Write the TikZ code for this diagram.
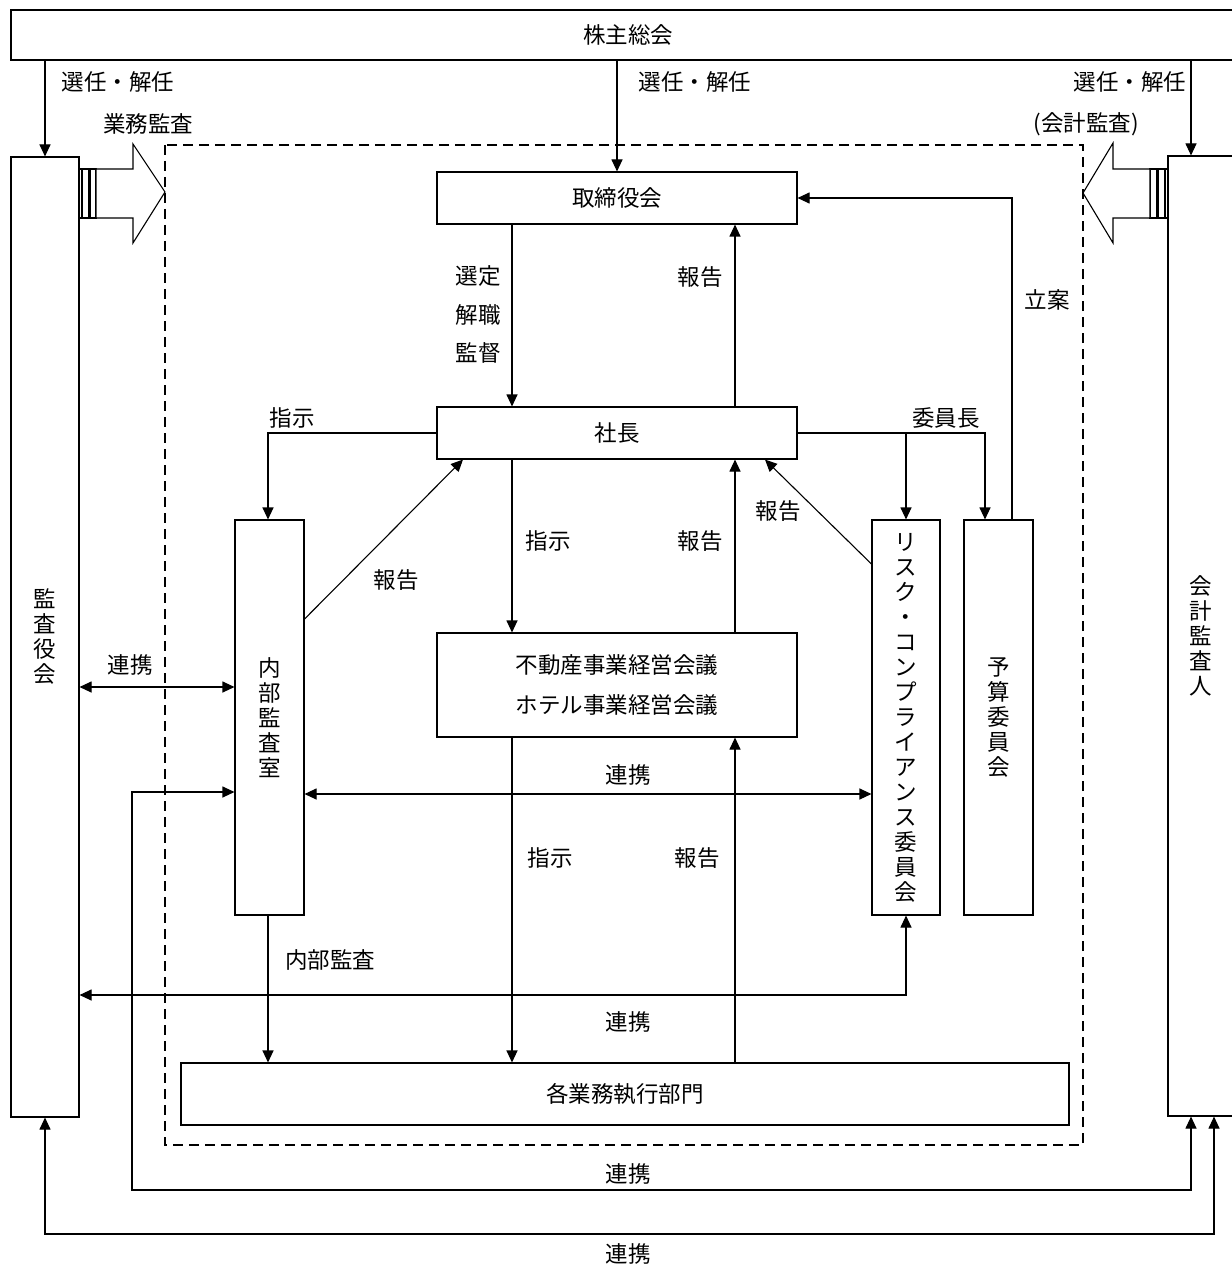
\documentclass[tikz,border=0pt]{standalone}
\usepackage{fontspec}
\setmainfont{Noto Sans CJK JP}
\usetikzlibrary{arrows.meta,calc}
\begin{document}
\begin{tikzpicture}[x=1pt,y=-1pt,
  box/.style={draw,line width=1.1pt,inner sep=0pt,font=\fontsize{22.5}{25}\selectfont,align=center},
  lbl/.style={inner sep=0pt,font=\fontsize{22.5}{25}\selectfont},
  arr/.style={line width=1.1pt,-{Triangle[length=12pt,width=11pt]}},
  darr/.style={line width=1.1pt,{Triangle[length=12pt,width=11pt]}-{Triangle[length=12pt,width=11pt]}},
  hollow/.style={draw,line width=1.1pt,fill=white,line join=miter}
]
\useasboundingbox (0,0) rectangle (1231,1265);
% dashed frame
\draw[line width=1.1pt,dash pattern=on 10pt off 6pt] (165,145) rectangle (1083,1145);
% boxes
\node[box,minimum width=1234pt,minimum height=50pt] (sh) at (628,35) {株主総会};
\node[box,minimum width=68pt,minimum height=960pt] (kansa) at (45,637) {監\\査\\役\\会};
\node[box,minimum width=66pt,minimum height=960pt] (kaikei) at (1201,636) {会\\計\\監\\査\\人};
\node[box,minimum width=360pt,minimum height=52pt] (tori) at (617,198) {取締役会};
\node[box,minimum width=360pt,minimum height=52pt] (shacho) at (617,433) {社長};
\node[box,minimum width=69pt,minimum height=395pt] (naibu) at (269.5,717.5) {内\\部\\監\\査\\室};
\node[box,minimum width=68pt,minimum height=395pt] (risk) at (906,717.5) {リ\\ス\\ク\\・\\コ\\ン\\プ\\ラ\\イ\\ア\\ン\\ス\\委\\員\\会};
\node[box,minimum width=69pt,minimum height=395pt] (yosan) at (998.5,717.5) {予\\算\\委\\員\\会};
\node[box,minimum width=360pt,minimum height=104pt,font=\fontsize{22.5}{40}\selectfont] (fudo) at (617,685) {不動産事業経営会議\\ホテル事業経営会議};
\node[box,minimum width=888pt,minimum height=62pt] (kaku) at (625,1094) {各業務執行部門};
% hollow arrows
\draw[hollow] (79,169) rectangle (82,218);
\draw[hollow] (82,169) rectangle (89,218);
\draw[hollow] (90,169) rectangle (96,218);
\draw[hollow] (96,169) -- (133,169) -- (133,144) -- (165,192) -- (133,243) -- (133,218) -- (96,218) -- cycle;
\draw[hollow] (1165,169) rectangle (1168,218);
\draw[hollow] (1158,169) rectangle (1165,218);
\draw[hollow] (1150,169) rectangle (1157,218);
\draw[hollow] (1150,169) -- (1113,169) -- (1113,143) -- (1083,193) -- (1113,243) -- (1113,218) -- (1150,218) -- cycle;
% coordinates
\coordinate (r1) at (0,687);
\coordinate (r2) at (0,794);
\coordinate (r3) at (0,792);
\coordinate (c1) at (132,1190);
\coordinate (c2) at (1214,1234);
\coordinate (r4) at (0,995);
% connectors
\draw[arr] (kansa.north |- sh.south) -- (kansa.north);
\draw[arr] (tori.north |- sh.south) -- (tori.north);
\draw[arr] ([xshift=-10pt]kaikei.north |- sh.south) -- ([xshift=-10pt]kaikei.north);
\draw[arr] ([xshift=-105pt]tori.south) -- ([xshift=-105pt]shacho.north);
\draw[arr] ([xshift=118pt]shacho.north) -- ([xshift=118pt]tori.south);
\draw[arr] ([xshift=13.5pt]yosan.north) |- (tori.east);
\draw[arr] (shacho.west) -| ([xshift=-1.5pt]naibu.north);
\draw[arr] (shacho.east) -| ([xshift=-13.5pt]yosan.north);
\draw[arr] (risk.north |- shacho.east) -- (risk.north);
\draw[arr] ([yshift=98.5pt]naibu.east) -- ([xshift=-154pt]shacho.south);
\draw[arr] ([yshift=153.5pt]risk.west) -- ([xshift=148pt]shacho.south);
\draw[arr] ([xshift=-105pt]shacho.south) -- ([xshift=-105pt]fudo.north);
\draw[arr] ([xshift=118pt]fudo.north) -- ([xshift=118pt]shacho.south);
\draw[darr] (kansa.east |- r1) -- (naibu.west |- r1);
\draw[darr] (naibu.east |- r2) -- (risk.west |- r2);
\draw[darr] (naibu.west |- r3) -| (c1) -| ([xshift=-10pt]kaikei.south);
\draw[darr] (kansa.south) |- (c2) -- ([xshift=13pt]kaikei.south);
\draw[arr] ([xshift=-105pt]fudo.south) -- ([xshift=-105pt]fudo.south |- kaku.north);
\draw[arr] ([xshift=118pt]fudo.south |- kaku.north) -- ([xshift=118pt]fudo.south);
\draw[arr] ([xshift=-1.5pt]naibu.south) -- ([xshift=-1.5pt]naibu.south |- kaku.north);
\draw[darr] (risk.south) |- (kansa.east |- r4);
% labels
\node[lbl] (l1) at (118,82) {選任・解任};
\node[lbl] (l2) at (695,82) {選任・解任};
\node[lbl] (l3) at (1130,82) {選任・解任};
\node[lbl] (l4) at (148,124) {業務監査};
\node[lbl] (l5) at (1086,124) {(会計監査)};
\node[lbl] (l6) at (478,276) {選定};
\node[lbl] (l7) at (478,315) {解職};
\node[lbl] (l8) at (478,353) {監督};
\node[lbl] (l9) at (700,277) {報告};
\node[lbl] (l10) at (1047,300) {立案};
\node[lbl] (l11) at (292,418) {指示};
\node[lbl] (l12) at (946,418) {委員長};
\node[lbl] (l13) at (396,580) {報告};
\node[lbl] (l14) at (778,511) {報告};
\node[lbl] (l15) at (548,541) {指示};
\node[lbl] (l16) at (700,541) {報告};
\node[lbl] (l17) at (130,665) {連携};
\node[lbl] (l18) at (628,775) {連携};
\node[lbl] (l19) at (550,858) {指示};
\node[lbl] (l20) at (697,858) {報告};
\node[lbl] (l21) at (330,960) {内部監査};
\node[lbl] (l22) at (628,1022) {連携};
\node[lbl] (l23) at (628,1174) {連携};
\node[lbl] (l24) at (628,1254) {連携};
\end{tikzpicture}
\end{document}
